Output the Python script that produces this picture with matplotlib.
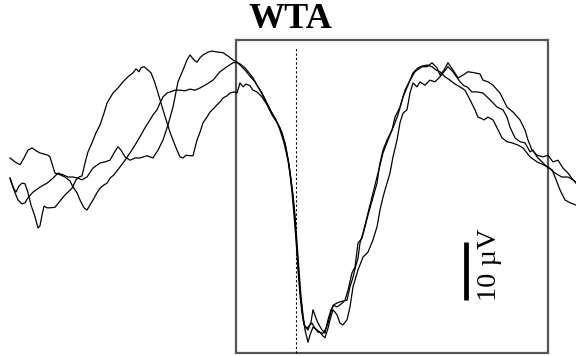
import matplotlib
matplotlib.use('Agg')
import matplotlib.pyplot as plt
from matplotlib.patches import Rectangle

# time in ms (0 = stimulus, dashed line), amplitude in microvolts
t1 = [-286, -281, -278, -274, -271, -268, -263, -256, -249, -243, -238, -233, -228, -223, -218, -214,
      -209, -203, -196, -191, -186, -182, -178, -175, -171, -166, -161, -156, -149, -143, -138, -133,
      -128, -123, -118, -113, -109, -106, -102, -99, -96, -93, -88, -84, -78, -73, -68, -63, -59,
      -56, -51, -46, -41, -36, -31, -26, -21, -16, -11, -7, -5, -3, -1, 1, 3, 5, 7, 9, 12, 15, 17,
      20, 22, 26, 29, 32, 35, 38, 41, 45, 49, 52, 56, 59, 62, 66, 69, 72, 77, 81, 84, 87, 91, 96,
      99, 104, 109, 114, 119, 126, 131, 136, 141, 144, 148, 152, 157, 162, 167, 172, 179, 184, 187,
      192, 197, 204, 211, 217, 224, 229, 232, 236, 241, 247, 252, 257, 262, 267, 272, 277, 280]
v1 = [3.9, 1.3, 0.0, -0.7, -0.5, 0.4, 1.4, 2.3, 3.0, 3.9, 4.8, 4.5, 4.1, 4.1, 3.9, 3.6,
      4.1, 5.7, 6.6, 6.8, 7.1, 8.4, 9.5, 8.9, 7.7, 7.1, 7.5, 7.5, 7.9, 7.5, 8.9, 10.7,
      13.4, 16.6, 21.1, 23.2, 25.0, 25.9, 25.0, 24.6, 25.4, 25.9, 26.4, 26.6, 26.4, 26.3, 25.7, 25.0, 24.6,
      24.1, 23.2, 22.1, 21.1, 19.6, 17.9, 16.1, 14.6, 12.9, 10.2, 6.3, 3.6, 0.5, -3.6, -8.9, -13.9, -17.9,
      -21.1, -22.7, -23.2, -21.8, -19.6, -21.1, -22.0, -23.2, -23.8, -21.4, -19.6, -18.8, -19.1, -18.6,
      -17.9, -16.1, -13.0, -12.0, -7.7, -6.8, -4.8, -2.7, 0.5, 3.0, 6.6, 8.9, 10.7, 12.5,
      14.8, 16.6, 19.6, 21.4, 22.9, 23.8, 23.8, 24.5, 23.6, 22.3, 23.2, 24.5, 23.2, 21.8, 22.3, 22.9,
      22.7, 22.5, 21.4, 21.1, 20.5, 19.1, 16.6, 15.7, 14.3, 12.5, 10.7, 8.9, 8.0, 7.7, 8.0, 6.8,
      7.1, 5.7, 4.8, 3.6, 3.0]

t2 = [-286, -281, -276, -272, -268, -264, -260, -256, -252, -248, -246, -243, -241, -236, -231, -226,
      -223, -219, -216, -212, -209, -206, -203, -199, -196, -192, -189, -186, -182, -176, -171, -166,
      -161, -156, -151, -146, -143, -139, -136, -133, -129, -126, -121, -116, -111, -106, -101, -96,
      -89, -83, -76, -69, -63, -59, -56, -51, -46, -43, -39, -34, -29, -24, -20, -16, -12, -8, -6,
      -4, -2, 0, 2, 4, 6, 8, 11, 14, 16, 19, 22, 27, 30, 32, 35, 37, 41, 44, 48, 51, 54, 57, 60,
      62, 64, 67, 71, 74, 79, 84, 87, 92, 97, 102, 107, 112, 117, 122, 126, 131, 136, 140, 144,
      149, 154, 159, 164, 169, 174, 179, 182, 185, 188, 192, 197, 201, 206, 211, 216, 222, 227,
      234, 241, 247, 252, 259, 266, 272, 277, 280]
v2 = [7.5, 6.8, 6.3, 7.5, 8.9, 9.3, 8.8, 8.4, 8.2, 8.0, 7.7, 5.9, 4.8, 4.5, 4.1, 3.4,
      2.3, 1.3, 0.0, -1.4, -1.8, -0.9, 0.0, 1.3, 2.1, 2.7, 3.0, 3.9, 4.5, 5.9, 7.1, 8.4,
      9.8, 11.3, 12.9, 14.3, 15.2, 16.1, 17.3, 18.4, 19.1, 19.3, 19.6, 19.6, 19.5, 19.8, 19.6, 20.0,
      20.7, 21.4, 22.9, 23.8, 24.5, 24.6, 24.3, 23.6, 22.5, 21.8, 20.5, 19.1, 17.3, 15.5, 14.3, 12.5,
      10.2, 7.1, 4.5, 1.4, -2.7, -7.1, -12.5, -17.0, -20.2, -22.3, -22.9, -22.3, -22.0, -22.9, -23.6,
      -23.8, -22.9, -22.0, -20.0, -18.8, -18.4, -18.2, -18.0, -17.9, -15.5, -13.8, -11.6,
      -10.4, -7.7, -5.9, -3.0, -0.9, 2.7, 6.3, 8.4, 10.7, 12.9, 15.2, 18.4, 20.5, 22.7, 23.6, 23.9,
      24.1, 23.8, 23.2, 22.9, 22.0, 21.4, 20.7, 20.2, 19.6, 17.9, 16.1, 14.8, 14.6, 14.3, 14.8,
      14.3, 12.9, 11.1, 10.4, 10.2, 9.8, 9.3, 7.7, 6.8, 6.3, 5.9, 4.8, 4.1, 4.1, 3.6, 3.2]

t3 = [-286, -283, -280, -277, -274, -271, -268, -265, -261, -258, -256, -254, -252, -249, -246, -241,
      -236, -232, -228, -224, -220, -217, -214, -211, -208, -204, -200, -196, -192, -189, -186, -183,
      -178, -173, -168, -163, -160, -157, -155, -152, -148, -145, -141, -136, -132, -129, -126, -123,
      -119, -116, -113, -110, -106, -103, -99, -96, -93, -89, -86, -82, -79, -76, -73, -69, -66, -62,
      -59, -56, -53, -50, -46, -43, -39, -34, -29, -24, -19, -14, -10, -7, -5, -3, -1, 1, 3, 5, 7,
      9, 12, 14, 17, 21, 24, 27, 29, 32, 34, 37, 41, 44, 47, 51, 54, 57, 62, 67, 72, 77, 81, 84,
      87, 89, 94, 97, 101, 104, 107, 111, 114, 117, 121, 124, 129, 134, 139, 144, 148, 152, 157,
      164, 168, 171, 176, 181, 187, 194, 201, 207, 211, 214, 219, 224, 229, 234, 237, 241, 246,
      251, 256, 259, 264, 269, 274, 280]
v3 = [3.9, 2.3, 1.4, 2.5, 3.0, 2.9, 1.3, -0.9, -3.0, -5.0, -4.6, -2.7, -1.1, -1.4, -1.4, -1.3,
      -0.2, 0.7, 1.4, 2.1, 3.6, 4.1, 4.3, 6.6, 8.6, 10.2, 12.0, 13.4, 15.5, 17.3, 18.2, 19.1,
      20.0, 21.1, 22.0, 22.7, 23.4, 22.9, 23.6, 23.8, 23.2, 22.7, 20.9, 17.9, 15.5, 13.8, 12.1, 10.7,
      8.9, 7.7, 7.5, 8.0, 7.9, 7.9, 10.7, 12.1, 13.8, 14.8, 15.7, 16.4, 17.0, 17.5, 18.2, 18.6, 19.1, 19.3,
      19.1, 20.9, 20.2, 20.7, 20.4, 19.6, 19.3, 18.4, 17.0, 15.2, 13.8, 12.0, 9.3, 6.3, 3.6, 0.9, -2.7,
      -7.7, -12.5, -17.3, -20.5, -23.2, -25.4, -24.1, -22.7, -23.2, -23.6, -24.3, -24.6, -22.9, -21.4,
      -19.6, -20.5, -22.0, -22.3, -21.4, -19.1, -15.5, -12.5, -10.2, -9.3, -7.1, -4.8, -1.8,
      0.5, 1.8, 4.8, 7.7, 10.7, 13.8, 15.5, 16.1, 19.1, 20.9, 20.2, 21.1, 20.5, 21.4, 21.1, 22.0,
      22.9, 23.8, 22.9, 21.1, 20.4, 20.2, 19.3, 19.3, 19.1, 17.9, 16.6, 16.1, 14.8, 13.0, 11.1,
      10.4, 10.2, 8.6, 8.9, 7.7, 6.8, 5.9, 5.4, 4.1, 1.8, 0.0, -0.5, -0.9]

fig = plt.figure(figsize=(5.76, 3.56), dpi=100)
ax = fig.add_axes([0, 0, 1, 1])
ax.set_xlim(-296, 280)
ax.set_ylim(-27.86, 35.71)
ax.axis('off')

for t, v in [(t1, v1), (t2, v2), (t3, v3)]:
    ax.plot(t, v, color='black', lw=0.9)

# analysis window
ax.add_patch(Rectangle((-60, -27.3), 312, 55.9, fill=False, edgecolor='#555555', lw=1.6))
ax.plot([0, 0], [-27.3, 27.3], color='black', lw=0.8, ls=(0, (2, 2)))

# scale bar
ax.plot([170, 170], [-17.9, -7.5], color='black', lw=3.4, solid_capstyle='butt')
ax.text(193, -11.6, '10 \u00b5V', rotation=90, ha='center', va='center',
        fontsize=20.5, family='Liberation Serif')

fig.text(290 / 576, 1 - 20 / 356, 'WTA', ha='center', va='center', fontsize=26,
         fontweight='bold', family='Liberation Serif')

fig.savefig('out.png', dpi=100)
